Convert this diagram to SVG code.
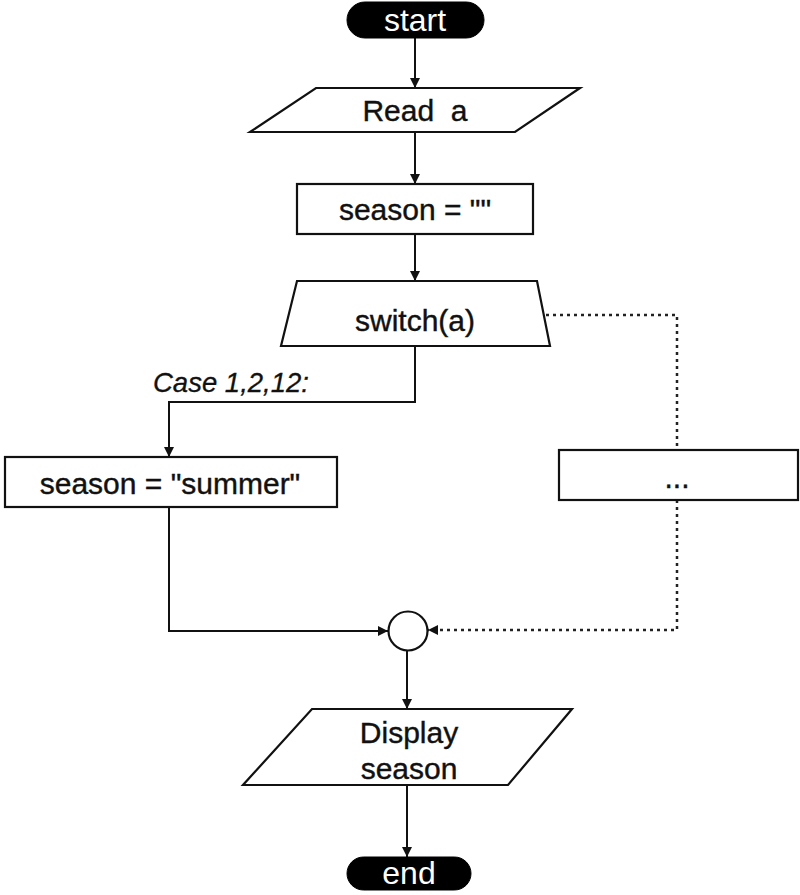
<svg xmlns="http://www.w3.org/2000/svg" width="800" height="895" viewBox="0 0 800 895">
<style>
.shape{fill:#fff;stroke:#111;stroke-width:2.2}
.term{fill:#000;stroke:#000;stroke-width:1}
.t{font-family:"Liberation Sans",Arial,sans-serif;font-size:30px;fill:#111;stroke:#111;stroke-width:0.4;text-anchor:middle}
.tw{font-family:"Liberation Sans",Arial,sans-serif;font-size:32px;fill:#fff;text-anchor:middle}
.lbl{font-family:"Liberation Sans",Arial,sans-serif;font-size:27.5px;font-style:italic;fill:#111;stroke:#111;stroke-width:0.3}
.c{fill:none;stroke:#111;stroke-width:2}
.d{fill:none;stroke:#222;stroke-width:2.5;stroke-dasharray:3 4}
</style>
<defs>
<marker id="ah" viewBox="0 0 10 10" refX="10" refY="5" markerWidth="11" markerHeight="10" markerUnits="userSpaceOnUse" orient="auto">
<path d="M0,0 L10,5 L0,10 Z" fill="#111"/>
</marker>
</defs>
<rect width="800" height="895" fill="#fff"/>
<g id="connectors">
<line class="c" x1="415" y1="38" x2="415" y2="88" marker-end="url(#ah)"/>
<line class="c" x1="415" y1="132" x2="415" y2="184" marker-end="url(#ah)"/>
<line class="c" x1="415" y1="234" x2="415" y2="281" marker-end="url(#ah)"/>
<polyline class="c" points="415,346 415,402 169,402 169,457" marker-end="url(#ah)"/>
<polyline class="c" points="169,507 169,631 388,631" marker-end="url(#ah)"/>
<polyline class="d" points="546,315 677,315 677,450"/>
<polyline class="d" points="677,500 677,630 428,630" marker-end="url(#ah)"/>
<line class="c" x1="407" y1="650" x2="407" y2="709" marker-end="url(#ah)"/>
<line class="c" x1="407" y1="785" x2="407" y2="857" marker-end="url(#ah)"/>
<text class="lbl" x="153" y="392">Case 1,2,12:</text>
</g>
<g id="start">
<rect class="term" x="347" y="2" width="137" height="36" rx="18"/>
<text class="tw" x="415" y="31">start</text>
</g>
<g id="read">
<polygon class="shape" points="316,88 580,88 515,132 250,132"/>
<text class="t" x="415" y="121" xml:space="preserve">Read  a</text>
</g>
<g id="init">
<rect class="shape" x="297" y="184" width="236" height="50"/>
<text class="t" x="415" y="220">season = ""</text>
</g>
<g id="switch">
<polygon class="shape" points="297,281 537,281 550,346 281,346"/>
<text class="t" x="415" y="331">switch(a)</text>
</g>
<g id="summer">
<rect class="shape" x="5" y="457" width="332" height="50"/>
<text class="t" x="170" y="494">season = "summer"</text>
</g>
<g id="other">
<rect class="shape" x="559" y="450" width="239" height="50"/>
<text class="t" x="677" y="488">...</text>
</g>
<g id="merge">
<circle class="shape" cx="408" cy="631" r="19.5"/>
</g>
<g id="display">
<polygon class="shape" points="312,709 572,709 508,785 243,785"/>
<text class="t" x="409" y="743">Display</text>
<text class="t" x="409" y="779">season</text>
</g>
<g id="end">
<rect class="term" x="347" y="857" width="124" height="33" rx="16.5"/>
<text class="tw" x="409" y="884">end</text>
</g>
</svg>
